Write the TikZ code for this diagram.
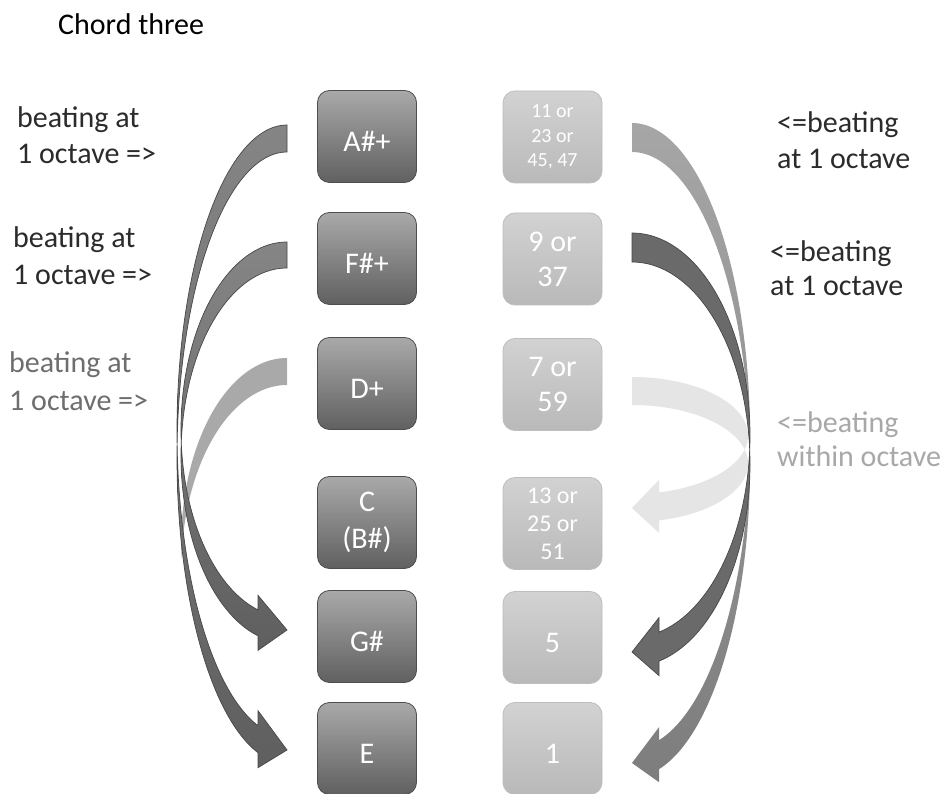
\documentclass[tikz,border=0pt]{standalone}
\usepackage{fontspec}
\setmainfont{Carlito}

\definecolor{keytop}{HTML}{A9A9A9}
\definecolor{keybottom}{HTML}{606060}
\definecolor{keyedge}{HTML}{4E4E4E}
\definecolor{valtop}{HTML}{D2D2D2}
\definecolor{valbottom}{HTML}{B9B9B9}
\definecolor{valedge}{HTML}{BDBDBD}
\definecolor{bandtop}{HTML}{858585}
\definecolor{bandbottom}{HTML}{5F5F5F}
\definecolor{bandedge}{HTML}{474747}
\definecolor{bandpale}{HTML}{A9A9A9}
\definecolor{bandmidtop}{HTML}{A6A6A6}
\definecolor{bandmidbottom}{HTML}{7D7D7D}
\definecolor{banddark}{HTML}{6A6A6A}
\definecolor{bandfaint}{HTML}{E5E5E5}
\definecolor{inkdark}{HTML}{2B2B2B}
\definecolor{inkmid}{HTML}{6E6E6E}
\definecolor{inklight}{HTML}{A8A8A8}

% Curved block arrow: tail and tip lie on the vertical line x = #1; the band
% bulges sideways (#3 = -1 to the left, 1 to the right) by #4, spans #5
% downwards from y = #2, with band thickness #6, head width #7, head length #8.
\newcommand{\bandarrow}[9]{%
  \pgfmathsetmacro{\bw}{#4}%
  \pgfmathsetmacro{\bhr}{#5/2-(#6+#7)/4}%
  \pgfmathsetmacro{\bth}{#6}%
  \pgfmathsetmacro{\bah}{#8}%
  \pgfmathsetmacro{\bdy}{\bhr*sqrt(1-(#8/#4)^2)}%
  \pgfmathsetmacro{\bdh}{(#7-#6)/2}%
  \pgfmathsetmacro{\btc}{asin(#6/(2*\bhr))}%
  \pgfmathsetmacro{\bts}{acos(#8/#4)}%
  \pgfmathsetmacro{\bvf}{\bhr+\bdy}%
  \pgfmathsetmacro{\bvs}{\bhr+#6+\bdy}%
  \pgfmathsetmacro{\bvw}{\bvf-\bdh}%
  \pgfmathsetmacro{\bvx}{\bvs+\bdh}%
  \pgfmathsetmacro{\bvt}{#5-#7/2}%
  \begin{scope}[shift={(#1,#2)}, xscale=#3]
    \path[#9]
      plot[domain=-90:\btc, samples=60] ({\bw*cos(\x)},{\bhr+\bhr*sin(\x)})
      -- plot[domain=-\btc:\bts, samples=60] ({\bw*cos(\x)},{\bhr+\bth+\bhr*sin(\x)})
      -- (\bah,\bvx) -- (0,\bvt) -- (\bah,\bvw) -- (\bah,\bvf)
      -- plot[domain=\bts:\btc, samples=60] ({\bw*cos(\x)},{\bhr+\bhr*sin(\x)})
      -- plot[domain=-\btc:-90, samples=60] ({\bw*cos(\x)},{\bhr+\bth+\bhr*sin(\x)})
      -- cycle;
  \end{scope}}

\tikzset{
  keybox/.style={rounded corners=12pt, minimum width=99pt, minimum height=92pt,
    inner sep=0pt, align=center, text=white,
    font=\fontsize{30}{35}\selectfont,
    execute at begin node={\rule{0pt}{1em}}},
  darkkey/.style={keybox, draw=keyedge, line width=0.8pt,
    top color=keytop, bottom color=keybottom},
  lightkey/.style={keybox, draw=valedge, line width=0.8pt,
    top color=valtop, bottom color=valbottom},
  caption/.style={anchor=base west, inner sep=0pt,
    font=\fontsize{30}{36}\selectfont},
  darkband/.style={top color=bandtop, bottom color=bandbottom,
    draw=bandedge, line width=0.7pt},
}

\begin{document}
\begin{tikzpicture}[x=1pt, y=-1pt]
  \useasboundingbox (0,0) rectangle (946,794);
  \fill[white] (0,0) rectangle (946,794);

  % title
  \node[caption, text=black] (title) at (58,35) {Chord three};

  % left-hand bent arrows; the pale one runs underneath, and only its
  % upper half (down to the pinch of the band) shows
  \begin{scope}
    \clip (0,0) rectangle (300,558.5);
    \bandarrow{287}{358}{-1}{106}{416}{27}{57}{29}{fill=bandpale}
  \end{scope}
  \bandarrow{287}{125}{-1}{110}{653.5}{27}{57}{29}{darkband}
  \bandarrow{287}{242}{-1}{106}{415.5}{26}{55}{29}{darkband}

  % right-hand bent arrows
  \bandarrow{632}{377}{1}{116}{157.5}{28}{53}{27}{fill=bandfaint}
  \bandarrow{632}{123}{1}{118}{667.5}{29}{55}{27}{top color=bandmidtop, bottom color=bandmidbottom}
  \bandarrow{632}{233}{1}{118}{448}{29}{58}{27}{fill=banddark, draw=bandedge, line width=0.7pt}

  % note column
  \node[darkkey] (ash) at (367,136.5) {A\#+};
  \node[darkkey] (fsh) at (367,258.5) {F\#+};
  \node[darkkey] (dpl) at (367,383.5) {D+};
  \node[darkkey, font=\fontsize{30}{37}\selectfont] (cbs) at (367,522.5) {C\\(B\#)};
  \node[darkkey] (gsh) at (367,636.5) {G\#};
  \node[darkkey] (ena) at (367,748.5) {E};

  % harmonic column
  \node[lightkey, font=\fontsize{20}{24.5}\selectfont] (h11) at (552.5,137) {11 or\\23 or\\45, 47};
  \node[lightkey] (h9) at (552.5,259) {9 or\\37};
  \node[lightkey] (h7) at (552.5,384.5) {7 or\\59};
  \node[lightkey, font=\fontsize{24}{28}\selectfont] (h13) at (552.5,523.5) {13 or\\25 or\\51};
  \node[lightkey] (h5) at (552.5,637.5) {5};
  \node[lightkey] (h1) at (552.5,748.5) {1};

  % left captions
  \node[caption, text=inkdark] (la1) at (17,128) {beating at};
  \node[caption, text=inkdark] (la2) at (17,164) {1 octave =>};
  \node[caption, text=inkdark] (lb1) at (13,248) {beating at};
  \node[caption, text=inkdark] (lb2) at (13,285) {1 octave =>};
  \node[caption, text=inkmid] (lc1) at (9,373) {beating at};
  \node[caption, text=inkmid] (lc2) at (9,411) {1 octave =>};

  % right captions
  \node[caption, text=inkdark] (ra1) at (777,133) {<=beating};
  \node[caption, text=inkdark] (ra2) at (777,169) {at 1 octave};
  \node[caption, text=inkdark] (rb1) at (770,262) {<=beating};
  \node[caption, text=inkdark] (rb2) at (770,296) {at 1 octave};
  \node[caption, text=inklight] (rc1) at (777,433) {<=beating};
  \node[caption, text=inklight] (rc2) at (777,467) {within octave};
\end{tikzpicture}
\end{document}
